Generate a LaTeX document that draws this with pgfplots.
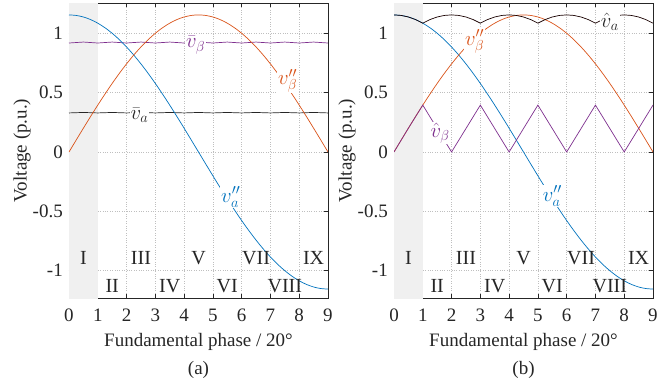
\documentclass[border=0pt]{standalone}
\usepackage{fontspec}
\setmainfont{Liberation Serif}
\usepackage{pgfplots}
\pgfplotsset{compat=1.18}
\definecolor{mblue}{HTML}{0072BD}
\definecolor{morange}{HTML}{D95319}
\definecolor{mpurple}{HTML}{7E2F8E}
\definecolor{mdark}{HTML}{262626}
\definecolor{shade}{HTML}{F0F0F0}

\pgfplotstableread{
x va vb
0 1.1547 0
0.25 1.1503 0.1006
0.5 1.1372 0.2005
0.75 1.1154 0.2989
1 1.0851 0.3949
1.25 1.0465 0.4880
1.5 1.0000 0.5774
1.75 0.9459 0.6623
2 0.8846 0.7422
2.25 0.8165 0.8165
2.5 0.7422 0.8846
2.75 0.6623 0.9459
3 0.5774 1.0000
3.25 0.4880 1.0465
3.5 0.3949 1.0851
3.75 0.2989 1.1154
4 0.2005 1.1372
4.25 0.1006 1.1503
4.5 0 1.1547
4.75 -0.1006 1.1503
5 -0.2005 1.1372
5.25 -0.2989 1.1154
5.5 -0.3949 1.0851
5.75 -0.4880 1.0465
6 -0.5774 1.0000
6.25 -0.6623 0.9459
6.5 -0.7422 0.8846
6.75 -0.8165 0.8165
7 -0.8846 0.7422
7.25 -0.9459 0.6623
7.5 -1.0000 0.5774
7.75 -1.0465 0.4880
8 -1.0851 0.3949
8.25 -1.1154 0.2989
8.5 -1.1372 0.2005
8.75 -1.1503 0.1006
9 -1.1547 0
}\dq

\pgfplotstableread{
x barva barvb
0 0.329 0.918
0.25 0.331 0.922
0.5 0.333 0.926
0.75 0.331 0.922
1 0.329 0.918
1.25 0.331 0.922
1.5 0.333 0.926
1.75 0.331 0.922
2 0.329 0.918
2.25 0.331 0.922
2.5 0.333 0.926
2.75 0.331 0.922
3 0.329 0.918
3.25 0.331 0.922
3.5 0.333 0.926
3.75 0.331 0.922
4 0.329 0.918
4.25 0.331 0.922
4.5 0.333 0.926
4.75 0.331 0.922
5 0.329 0.918
5.25 0.331 0.922
5.5 0.333 0.926
5.75 0.331 0.922
6 0.329 0.918
6.25 0.331 0.922
6.5 0.333 0.926
6.75 0.331 0.922
7 0.329 0.918
7.25 0.331 0.922
7.5 0.333 0.926
7.75 0.331 0.922
8 0.329 0.918
8.25 0.331 0.922
8.5 0.333 0.926
8.75 0.331 0.922
9 0.329 0.918
}\bars

\pgfplotstableread{
x hatva
0 1.1547
0.25 1.1503
0.5 1.1372
0.75 1.1154
1 1.0851
1.25 1.1154
1.5 1.1372
1.75 1.1503
2 1.1547
2.25 1.1503
2.5 1.1372
2.75 1.1154
3 1.0851
3.25 1.1154
3.5 1.1372
3.75 1.1503
4 1.1547
4.25 1.1503
4.5 1.1372
4.75 1.1154
5 1.0851
5.25 1.1154
5.5 1.1372
5.75 1.1503
6 1.1547
6.25 1.1503
6.5 1.1372
6.75 1.1154
7 1.0851
7.25 1.1154
7.5 1.1372
7.75 1.1503
8 1.1547
8.25 1.1503
8.5 1.1372
8.75 1.1154
9 1.0851
}\hata

\pgfplotstableread{
x hatvb
0 0
0.5 0.2005
1 0.3949
2 0
3 0.3949
4 0
5 0.3949
6 0
7 0.3949
8 0
9 0.3949
}\hatb

\pgfplotsset{
  myax/.style={
    width=259pt, height=295pt, scale only axis,
    xmin=0, xmax=9, ymin=-1.23, ymax=1.255,
    xtick={0,1,...,9}, ytick={-1,-0.5,0,0.5,1},
    yticklabels={-1,-0.5,0,0.5,1},
    grid=major, grid style={dotted, black!25, line width=0.6pt},
    axis line style={mdark, line width=0.6pt},
    tick style={mdark, line width=0.6pt},
    major tick length=4pt,
    tick align=inside,
    /pgf/number format/assume math mode=true,
    tick label style={font=\fontsize{19}{22}\selectfont, text=mdark},
    xticklabel style={inner sep=0pt, anchor=north, yshift=-11pt},
    yticklabel style={inner sep=0pt, anchor=east, xshift=-6pt},
    label style={font=\fontsize{19}{22}\selectfont, text=mdark},
    xlabel={Fundamental phase / 20°},
    ylabel={Voltage (p.u.)},
    xlabel style={at={(axis description cs:0.5,-0.149)}, anchor=center},
    ylabel style={at={(axis description cs:-0.1815,0.5)}, anchor=center},
  },
}
\tikzset{
  roman/.style={font=\fontsize{20}{23}\selectfont, text=mdark},
  lbl/.style={font=\fontsize{22}{25}\selectfont, fill=white, inner sep=1pt},
}

\begin{document}
\begin{tikzpicture}[font=\fontsize{19}{22}\selectfont]
\path[use as bounding box] (-69pt,-91pt) rectangle (599pt,298pt);

\begin{axis}[myax, at={(0pt,0pt)}, anchor=south west]
\addplot[fill=shade, draw=none] coordinates {(0,-1.3) (1,-1.3) (1,1.3) (0,1.3)} -- cycle;
\addplot[mdark, line width=0.7pt] table[x=x, y=barva] {\bars};
\addplot[mpurple, line width=0.7pt] table[x=x, y=barvb] {\bars};
\addplot[mblue, line width=0.7pt, smooth] table[x=x, y=va] {\dq};
\addplot[morange, line width=0.7pt, smooth] table[x=x, y=vb] {\dq};
\node[lbl, text=mpurple] at (axis cs:4.4,0.90) {$\bar{v}_\beta$};
\node[lbl, text=mdark] at (axis cs:2.45,0.31) {$\bar{v}_a$};
\node[lbl, text=morange] at (axis cs:7.6,0.60) {$v''_\beta$};
\node[lbl, text=mblue] at (axis cs:5.62,-0.38) {$v''_a$};
\node[roman] at (axis cs:0.5,-0.89) {I};
\node[roman] at (axis cs:1.5,-1.13) {II};
\node[roman] at (axis cs:2.5,-0.89) {III};
\node[roman] at (axis cs:3.5,-1.13) {IV};
\node[roman] at (axis cs:4.5,-0.89) {V};
\node[roman] at (axis cs:5.5,-1.13) {VI};
\node[roman] at (axis cs:6.5,-0.89) {VII};
\node[roman] at (axis cs:7.5,-1.13) {VIII};
\node[roman] at (axis cs:8.5,-0.89) {IX};
\end{axis}
\node[text=mdark] at (129.5pt,-72pt) {(a)};

\begin{axis}[myax, at={(325pt,0pt)}, anchor=south west]
\addplot[fill=shade, draw=none] coordinates {(0,-1.3) (1,-1.3) (1,1.3) (0,1.3)} -- cycle;
\addplot[mblue, line width=0.7pt, smooth] table[x=x, y=va] {\dq};
\addplot[morange, line width=0.7pt, smooth] table[x=x, y=vb] {\dq};
\addplot[black!90!red, line width=0.7pt] table[x=x, y=hatva] {\hata};
\addplot[mpurple, line width=0.7pt] table[x=x, y=hatvb] {\hatb};
\node[lbl, text=mdark] at (axis cs:7.5,1.10) {$\hat{v}_a$};
\node[lbl, text=morange] at (axis cs:2.8,0.93) {$v''_\beta$};
\node[lbl, text=mpurple] at (axis cs:1.6,0.16) {$\hat{v}_\beta$};
\node[lbl, text=mblue] at (axis cs:5.5,-0.37) {$v''_a$};
\node[roman] at (axis cs:0.5,-0.89) {I};
\node[roman] at (axis cs:1.5,-1.13) {II};
\node[roman] at (axis cs:2.5,-0.89) {III};
\node[roman] at (axis cs:3.5,-1.13) {IV};
\node[roman] at (axis cs:4.5,-0.89) {V};
\node[roman] at (axis cs:5.5,-1.13) {VI};
\node[roman] at (axis cs:6.5,-0.89) {VII};
\node[roman] at (axis cs:7.5,-1.13) {VIII};
\node[roman] at (axis cs:8.5,-0.89) {IX};
\end{axis}
\node[text=mdark] at (454.5pt,-72pt) {(b)};
\end{tikzpicture}
\end{document}
